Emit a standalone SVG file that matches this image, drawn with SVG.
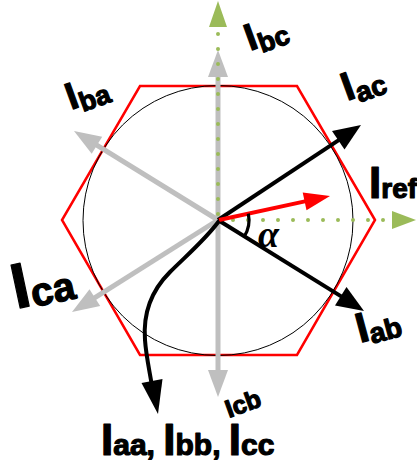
<svg xmlns="http://www.w3.org/2000/svg" width="417" height="472" viewBox="0 0 417 472">
<style>
.lbl{font-family:"Liberation Sans",Arial,sans-serif;font-weight:bold;fill:#000;stroke:#000;stroke-width:1.2;stroke-linejoin:round}
.grey{stroke:#bfbfbf;stroke-width:5;fill:none}
.greyh{fill:#bfbfbf}
.blk{stroke:#000;stroke-width:4;fill:none}
.grn{stroke:#9bbb59;stroke-width:4;stroke-linecap:round;stroke-dasharray:0 15;fill:none}
.grnh{fill:#9bbb59}
</style>
<rect width="417" height="472" fill="#fff"/>
<g id="hexagon"><polygon points="375,220 297,86 140,86 62,220 140,355 297,355" fill="none" stroke="#ff0000" stroke-width="2.5"/></g>
<g id="circle"><circle cx="218" cy="220.5" r="135" fill="none" stroke="#000" stroke-width="1"/></g>
<g id="connectors">
<line class="grey" x1="218" y1="221" x2="218" y2="72"/><polygon class="greyh" points="218,50 208,77 228,77"/>
<line class="grey" x1="218" y1="221" x2="218" y2="375"/><polygon class="greyh" points="218,397 208,370 228,370"/>
<line class="grey" x1="218" y1="220" x2="92.7" y2="142.6"/><polygon class="greyh" points="74,131 102.2,136.7 91.7,153.7"/>
<line class="grey" x1="218" y1="220" x2="90.6" y2="300.3"/><polygon class="greyh" points="72,312 89.5,289.2 100.2,306.1"/>
<line class="grn" x1="218" y1="214" x2="218" y2="28"/><polygon class="grnh" points="218,1 209,27 227,27"/>
<line class="grn" x1="233" y1="220" x2="391" y2="220"/><polygon class="grnh" points="416,220 392,211 392,229"/>
<line class="blk" x1="218" y1="220" x2="342.5" y2="137.6"/><polygon points="361,125 344.5,149.5 332,131"/>
<line class="blk" x1="218" y1="220" x2="345.2" y2="298.9"/><polygon points="364,311 335,305.5 346.5,287"/>
<line x1="219" y1="220" x2="309.5" y2="200.4" stroke="#ff0000" stroke-width="4"/><polygon fill="#ff0000" points="330,196 306.5,210.2 302.7,192.6"/>
<path class="blk" stroke-width="4.5" d="M219,221 C205,240 187,255 170,272 C150,292 143,315 145,340 C146,355 149,368 152,386"/><polygon points="158,414 162.5,379 141.5,383"/>
<path d="M248.3,213.6 A31,31 0 0 1 244.3,236.4" fill="none" stroke="#000" stroke-width="3.2"/>
</g>
<g id="alpha"><text x="258" y="247" font-family="Liberation Serif,serif" font-style="italic" font-weight="bold" font-size="38">α</text></g>
<g id="label-bc"><text class="lbl" transform="translate(250,51) rotate(-20)" font-size="38">I<tspan font-size="27" dy="6">bc</tspan></text></g>
<g id="label-ba"><text class="lbl" transform="translate(71,110) rotate(-20)" font-size="38">I<tspan font-size="27" dy="6">ba</tspan></text></g>
<g id="label-ac"><text class="lbl" transform="translate(347,101) rotate(-20)" font-size="40">I<tspan font-size="28" dy="6">ac</tspan></text></g>
<g id="label-ref"><text class="lbl" x="369" y="198" font-size="44">I<tspan font-size="28">ref</tspan></text></g>
<g id="label-ab"><text class="lbl" transform="translate(360,343) rotate(-15)" font-size="42">I<tspan font-size="28" dy="4">ab</tspan></text></g>
<g id="label-ca"><text class="lbl" transform="translate(16,309) rotate(-12)" font-size="64">I<tspan font-size="40" dy="2">ca</tspan></text></g>
<g id="label-cb"><text class="lbl" transform="translate(229,418) rotate(-20)" font-size="25">Icb</text></g>
<g id="label-aa"><text class="lbl" x="101" y="455" font-size="44">I<tspan font-size="30">aa, </tspan>I<tspan font-size="30">bb, </tspan>I<tspan font-size="30">cc</tspan></text></g>
</svg>
